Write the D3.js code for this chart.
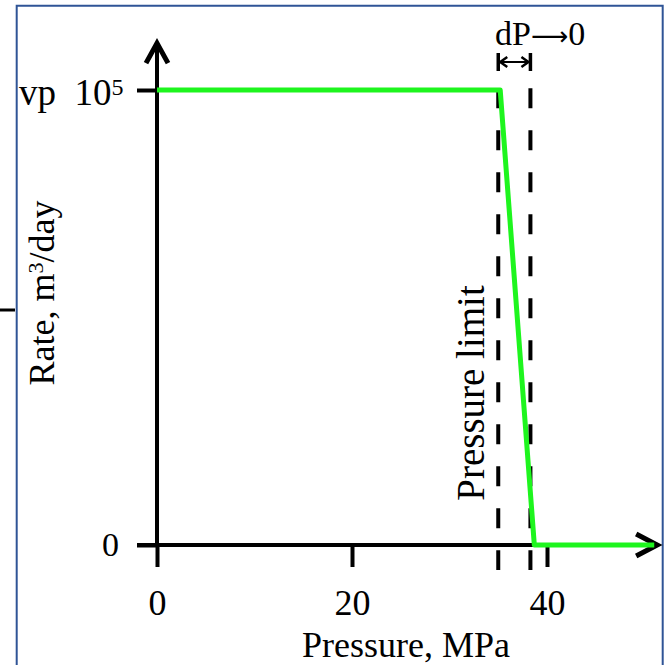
<!DOCTYPE html>
<html>
<head>
<meta charset="utf-8">
<script src="https://cdn.jsdelivr.net/npm/d3@7"></script>
<style>
body { margin: 0; background: #fff; }
text { font-family: "Liberation Serif", "Times New Roman", serif; fill: #000; }
</style>
</head>
<body>
<div id="chart"></div>
<script>
// rate vs pressure curve
const pressure = [0, 35.2, 38.7, 51];
const rate = [1e5, 1e5, 0, 0];
// axes
const xTicks = [0, 20, 40];
const yTicks = [0, 1e5];
const xAxisEnds = [-2.05, 51.3];
const yAxisTop = 1.103e5;
// the two dashed lines around the pressure limit
const limits = [35, 38.3];
const limitSpan = [1.004e5, -0.055e5];

const w = 667, h = 665;

const svg = d3.select("#chart").append("svg")
    .attr("width", w)
    .attr("height", h);

const x = d3.scaleLinear().domain([0, 40]).range([157, 547]);
const y = d3.scaleLinear().domain([0, 1e5]).range([545, 90]);

// frame
svg.append("path")
    .attr("d", "M16.7," + h + "V5.7H662.7V" + h)
    .attr("fill", "none")
    .attr("stroke", "#2f5496")
    .attr("stroke-width", 2);
svg.append("line")
    .attr("x1", 0).attr("x2", 15)
    .attr("y1", 310).attr("y2", 310)
    .attr("stroke", "#000")
    .attr("stroke-width", 3);

// x axis
const xAxis = d3.axisBottom(x)
    .tickValues(xTicks)
    .tickSizeInner(22)
    .tickSizeOuter(0)
    .tickFormat(d3.format("d"));

const gx = svg.append("g")
    .attr("transform", "translate(0," + y(0) + ")")
    .call(xAxis);
gx.select(".domain").remove();
gx.selectAll(".tick line").attr("stroke", "#000").attr("stroke-width", 4);
gx.selectAll(".tick text")
    .attr("y", 70)
    .attr("dy", null)
    .style("font-size", "36px")
    .style("font-family", "Liberation Serif, Times New Roman, serif");

// y axis
const yAxis = d3.axisLeft(y)
    .tickValues(yTicks)
    .tickSizeInner(20)
    .tickSizeOuter(0)
    .tickFormat("");

const gy = svg.append("g")
    .attr("transform", "translate(" + x(0) + ",0)")
    .call(yAxis);
gy.select(".domain").remove();
gy.selectAll(".tick line").attr("stroke", "#000").attr("stroke-width", 4);
gy.selectAll(".tick text").remove();

// axis lines with open arrow heads
svg.append("line")
    .attr("x1", x(xAxisEnds[0])).attr("x2", x(xAxisEnds[1]))
    .attr("y1", y(0)).attr("y2", y(0))
    .attr("stroke", "#000").attr("stroke-width", 4);
svg.append("line")
    .attr("x1", x(0)).attr("x2", x(0))
    .attr("y1", y(0)).attr("y2", y(yAxisTop))
    .attr("stroke", "#000").attr("stroke-width", 4);

const xt = x(xAxisEnds[1]), yt = y(yAxisTop);
svg.append("path")
    .attr("d", "M" + (xt - 21) + "," + (y(0) - 11) + "L" + xt + "," + y(0) + "L" + (xt - 21) + "," + (y(0) + 11))
    .attr("fill", "none").attr("stroke", "#000").attr("stroke-width", 5);
svg.append("path")
    .attr("d", "M" + (x(0) - 11) + "," + (yt + 20) + "L" + x(0) + "," + yt + "L" + (x(0) + 11) + "," + (yt + 20))
    .attr("fill", "none").attr("stroke", "#000").attr("stroke-width", 5);

// y tick labels
svg.append("text")
    .attr("x", 119).attr("y", y(0) + 11)
    .attr("text-anchor", "end")
    .style("font-size", "34px")
    .text("0");
const vp = svg.append("text")
    .attr("x", 19).attr("y", y(1e5) + 15)
    .style("font-size", "37px");
vp.append("tspan").text("vp\u00a0\u00a010");
vp.append("tspan").attr("dy", -10).style("font-size", "24px").text("5");

// dashed limit lines
svg.selectAll(".limit")
    .data(limits)
    .enter()
    .append("line")
    .attr("class", "limit")
    .attr("x1", d => x(d)).attr("x2", d => x(d))
    .attr("y1", y(limitSpan[0])).attr("y2", y(limitSpan[1]))
    .attr("stroke", "#000")
    .attr("stroke-width", 4)
    .attr("stroke-dasharray", "20,22");

// rate curve
const line = d3.line()
    .x(d => x(d[0]))
    .y(d => y(d[1]));
svg.append("path")
    .datum(d3.zip(pressure, rate))
    .attr("d", line)
    .attr("fill", "none")
    .attr("stroke", "#1ef51e")
    .attr("stroke-width", 5)
    .attr("stroke-linejoin", "round");

// dP -> 0 double arrow
const ay = 62;
const a0 = x(limits[0]), a1 = x(limits[1]);
svg.append("line")
    .attr("x1", a0).attr("x2", a1).attr("y1", ay).attr("y2", ay)
    .attr("stroke", "#000").attr("stroke-width", 2);
[a0, a1].forEach(function(ax, i) {
    const s = i === 0 ? 1 : -1;
    svg.append("line")
        .attr("x1", ax).attr("x2", ax).attr("y1", ay - 9).attr("y2", ay + 9)
        .attr("stroke", "#000").attr("stroke-width", 3.5);
    svg.append("path")
        .attr("d", "M" + (ax + s * 9) + "," + (ay - 5) + "L" + (ax + s * 2) + "," + ay + "L" + (ax + s * 9) + "," + (ay + 5))
        .attr("fill", "none").attr("stroke", "#000").attr("stroke-width", 2.5);
});
const dp = svg.append("text")
    .attr("x", 495).attr("y", 45)
    .style("font-size", "34px");
dp.append("tspan").text("dP");
dp.append("tspan").style("font-family", "DejaVu Sans").style("font-size", "26px").text("\u27f6");
dp.append("tspan").text("0");

// labels
svg.append("text")
    .attr("transform", "translate(484,393) rotate(-90)")
    .attr("text-anchor", "middle")
    .style("font-size", "39px")
    .text("Pressure limit");

svg.append("text")
    .attr("x", 406).attr("y", 657)
    .attr("text-anchor", "middle")
    .style("font-size", "36px")
    .text("Pressure, MPa");

const yl = svg.append("text")
    .attr("transform", "translate(54,293) rotate(-90)")
    .attr("text-anchor", "middle")
    .style("font-size", "36px");
yl.append("tspan").text("Rate, m");
yl.append("tspan").attr("dy", -11).style("font-size", "22px").text("3");
yl.append("tspan").attr("dy", 11).text("/day");
</script>
</body>
</html>
